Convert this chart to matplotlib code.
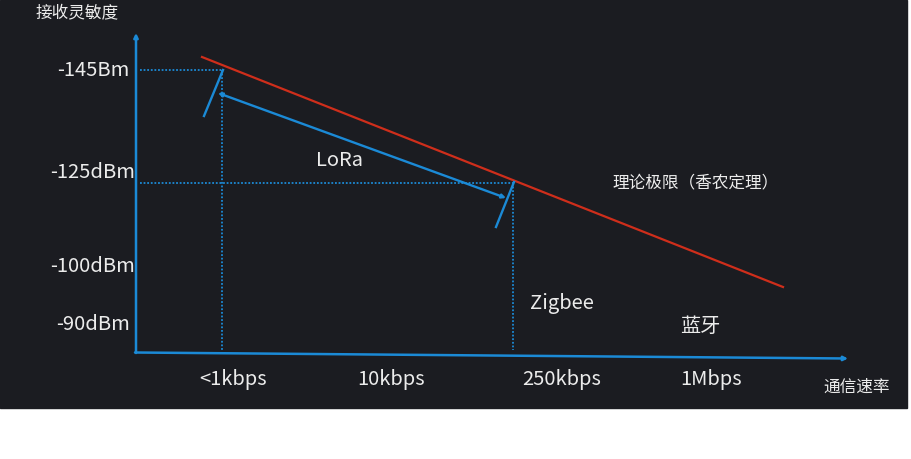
import matplotlib.pyplot as plt
from matplotlib.patches import Rectangle

plt.rcParams['font.family'] = ['Noto Sans CJK SC', 'DejaVu Sans']

# schematic canvas units (the chart is a sketch, not a true scale)
sens_labels = ['-145Bm', '-125dBm', '-100dBm', '-90dBm']
sens_pos = [70, 173, 266, 325]
rate_labels = ['<1kbps', '10kbps', '250kbps', '1Mbps']
rate_pos = [233, 391, 562, 711]

shannon_x = [202, 783]
shannon_y = [57, 287]
lora_x = [218, 506]
lora_y = [93, 198]
# operating points of LoRa and Zigbee on the limit line
pts_x = [222, 513]
pts_y = [70, 183]
# short slanted markers ending at those points
mark_x = [[204, 223], [496, 514]]
mark_y = [[116, 70], [227, 182]]

blue = '#1b8ad6'
red = '#cf2e1b'
bg = '#1b1c21'
fg = '#ececec'

fig = plt.figure(figsize=(9.12, 4.59), dpi=100)
ax = fig.add_axes([0, 0, 1, 1])
ax.set_xlim(0, 912)
ax.set_ylim(459, 0)
ax.axis('off')
ax.add_patch(Rectangle((0, 0), 907, 408, color=bg, zorder=0))

# axes arrows
ax.annotate('', xy=(136, 33), xytext=(136, 353),
            arrowprops=dict(arrowstyle='-|>', color=blue, lw=1.8, mutation_scale=6, shrinkA=0, shrinkB=0))
ax.annotate('', xy=(848, 358.5), xytext=(135, 352.5),
            arrowprops=dict(arrowstyle='-|>', color=blue, lw=1.8, mutation_scale=6, shrinkA=0, shrinkB=0))

# dotted guide lines
for px, py in zip(pts_x, pts_y):
    ax.plot([140, px], [py, py], color=blue, lw=1.3, ls=(0, (1, 1)))
    ax.plot([px, px], [py, 350], color=blue, lw=1.3, ls=(0, (1, 1)))

# Shannon limit
ax.plot(shannon_x, shannon_y, color=red, lw=1.6)

# LoRa gain arrow
ax.annotate('', xy=(lora_x[1], lora_y[1]), xytext=(lora_x[0], lora_y[0]),
            arrowprops=dict(arrowstyle='<|-|>', color=blue, lw=1.7, mutation_scale=5.5, shrinkA=0, shrinkB=0))
for mx, my in zip(mark_x, mark_y):
    ax.plot(mx, my, color=blue, lw=1.7)

for lab, y in zip(sens_labels, sens_pos):
    ax.text(93, y, lab, color=fg, fontsize=14.5, ha='center', va='center')
for lab, x in zip(rate_labels, rate_pos):
    ax.text(x, 379, lab, color=fg, fontsize=14.5, ha='center', va='center')

ax.text(77, 13, '接收灵敏度', color=fg, fontsize=12, ha='center', va='center')
ax.text(857, 387, '通信速率', color=fg, fontsize=12, ha='center', va='center')
ax.text(696, 183, '理论极限（香农定理）', color=fg, fontsize=12, ha='center', va='center')
ax.text(340, 161, 'LoRa', color=fg, fontsize=14.5, ha='center', va='center')
ax.text(562, 303, 'Zigbee', color=fg, fontsize=14.5, ha='center', va='center')
ax.text(700, 326, '蓝牙', color=fg, fontsize=14.5, ha='center', va='center')

fig.savefig('out.png', dpi=100, facecolor='white')
